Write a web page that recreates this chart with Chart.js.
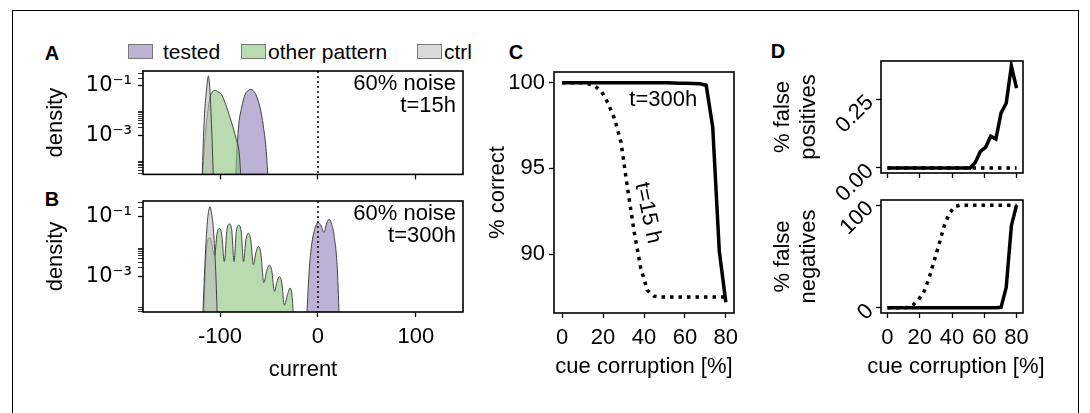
<!DOCTYPE html>
<html lang="en">
<head>
<meta charset="UTF-8" />
<title>Cue corruption - current densities</title>
<script src="https://cdn.jsdelivr.net/npm/chart.js"></script>
<style>
  body { margin: 0; background: #fff; font-family: 'Liberation Sans', Arial, sans-serif; }
  #wrap { position: relative; width: 1090px; height: 413px; overflow: hidden; }
  #frame { position: absolute; left: 12px; top: 10px; width: 1067px; height: 430px; border: 1px solid #000; box-sizing: border-box; }
  canvas { position: absolute; }
  .lbl { position: absolute; font-weight: bold; font-size: 20px; transform: translate(-50%, -50%); }
  .patch { position: absolute; top: 44px; width: 25px; height: 15px; border: 1px solid #777; box-sizing: border-box; }
  .leg { position: absolute; top: 40px; font-size: 21px; line-height: 24px; }
</style>
</head>
<body>
<div id="wrap">
  <div id="frame"></div>
  <div class="lbl" style="left:52px;top:53px">A</div>
  <div class="lbl" style="left:52px;top:199px">B</div>
  <div class="lbl" style="left:516px;top:52px">C</div>
  <div class="lbl" style="left:778px;top:51px">D</div>

  <div class="patch" style="left:128px;background:#bcb2d5"></div>
  <div class="leg" style="left:163px">tested</div>
  <div class="patch" style="left:241px;background:#b8dbb0"></div>
  <div class="leg" style="left:268px">other pattern</div>
  <div class="patch" style="left:417px;background:#dadada"></div>
  <div class="leg" style="left:444px">ctrl</div>

  <canvas id="chartA"></canvas>
  <canvas id="chartB"></canvas>
  <canvas id="chartC"></canvas>
  <canvas id="chartD1"></canvas>
  <canvas id="chartD2"></canvas>
</div>

<script>
  // ---- A: current densities at t=15h ----
  const aCtrlX = [-118.5, -116.3, -114.3, -112.9, -111.9, -110.9, -110.2, -108.5, -106.6];
  const aCtrlY = [1e-5, 3.2e-3, 0.043, 0.14, 0.25, 0.14, 0.056, 1.8e-3, 1e-5];
  const aOtherX = [-118.5, -115.3, -111.9, -109.5, -107, -105.1, -102, -98.3, -93.2, -88.1, -83.7, -80.3, -78.3];
  const aOtherY = [1e-5, 7.9e-4, 0.0135, 0.043, 0.060, 0.065, 0.056, 0.043, 0.0135, 3.2e-3, 7.6e-4, 1.8e-4, 1e-5];
  const aTestedX = [-84.5, -81.3, -77.9, -74.5, -71.5, -68.7, -66, -63.3, -59.2, -55.8, -53.1, -50.5];
  const aTestedY = [1e-5, 1.8e-3, 0.0135, 0.043, 0.063, 0.071, 0.063, 0.043, 0.0135, 2.4e-3, 3.2e-4, 1e-5];

  // ---- B: current densities at t=300h ----
  const bCtrlX = [-118, -115.3, -112.9, -111.5, -110.2, -108.8, -106.8, -104.1, -102.5];
  const bCtrlY = [2e-5, 3.2e-3, 0.068, 0.16, 0.22, 0.14, 0.041, 8.9e-4, 2e-5];
  const bOtherX = [-117, -114, -110.2, -105.5, -103.2, -100.7, -98.2, -95.6, -93, -90.5, -88, -85.7,
    -83.4, -80.9, -78.4, -76, -73.6, -71.1, -68.6, -66, -63.4, -60.9, -58.4, -55.3,
    -52.2, -49.7, -47.2, -44.4, -42, -39.5, -37, -34.3, -31.1, -28.6, -26.3, -24.5];
  const bOtherY = [2e-5, 7.9e-3, 0.020, 5.0e-3, 0.025, 0.041, 0.025, 3.2e-3, 0.035, 0.058, 0.035, 3.2e-3,
    0.032, 0.052, 0.032, 3.2e-3, 0.017, 0.028, 0.017, 2.5e-3, 6.3e-3, 0.010, 6.3e-3, 6.3e-4,
    1.6e-3, 2.4e-3, 1.6e-3, 3.2e-4, 6.3e-4, 1.0e-3, 6.3e-4, 1.1e-4, 2.5e-4, 4.1e-4, 2.0e-4, 2e-5];
  const bTestedX = [-12, -9, -6.5, -3.1, 0.3, 3.2, 6.1, 9, 11.6, 14, 16.3, 19.7, 22];
  const bTestedY = [2e-5, 1.6e-3, 0.0115, 0.041, 0.065, 0.050, 0.030, 0.063, 0.083, 0.056, 0.025, 1.9e-3, 2e-5];

  // ---- C / D: against cue corruption ----
  const cueX = [0, 3.2, 6.4, 9.6, 12.8, 16, 19.2, 22.4, 25.6, 28.8, 32, 35.2, 38.4, 41.6, 44.8, 48,
    51.2, 54.4, 57.6, 60.8, 64, 67.2, 70.4, 73.6, 76.8, 80];
  const correct300 = [100, 100, 100, 100, 100, 100, 100, 100, 100, 100, 100, 100, 100, 100, 100, 100,
    99.99, 99.98, 99.97, 99.96, 99.95, 99.93, 99.85, 97.4, 90.2, 87.2];
  const correct15 = [100, 100, 100, 100, 99.93, 99.8, 99.5, 98.8, 97.9, 96.5, 93.8, 91.3, 89.2, 87.9, 87.55, 87.5,
    87.5, 87.5, 87.5, 87.5, 87.5, 87.5, 87.5, 87.5, 87.5, 87.5];
  const falsePos300 = [0, 0, 0, 0, 0, 0, 0, 0, 0, 0, 0, 0, 0, 0, 0, 0, 0,
    0.02, 0.06, 0.075, 0.115, 0.105, 0.2, 0.235, 0.37, 0.29];
  const falsePos15 = [0, 0, 0, 0, 0, 0, 0, 0, 0, 0, 0, 0, 0, 0, 0, 0, 0, 0, 0, 0, 0, 0, 0, 0, 0, 0];
  const falseNeg300 = [0, 0, 0, 0, 0, 0, 0, 0, 0, 0, 0, 0, 0, 0, 0, 0, 0, 0, 0, 0, 0, 0,
    0.5, 20, 80, 100];
  const falseNeg15 = [0, 0, 0, 0, 0.5, 3, 8, 15, 28, 45, 62, 80, 92, 98.5, 100, 100,
    100, 100, 100, 100, 100, 100, 100, 100, 100, 100];

  const currentTicks = [-100, 0, 100];
  const cueTicks = [0, 20, 40, 60, 80];
  const correctTicks = [90, 95, 100];
  const fpTicks = [0, 0.25];
  const fnTicks = [0, 100];
  const logDecades = [1e-5, 1e-3, 1e-1];

  const FONT = "'Liberation Sans', Arial, sans-serif";
  Chart.defaults.font.family = FONT;
  Chart.defaults.font.size = 22;
  Chart.defaults.color = '#000';

  const pts = (xs, ys) => xs.map((x, i) => ({ x, y: ys[i] }));

  // canvas placed so the plot area lands on a fixed box
  function place(id, b) {
    const c = document.getElementById(id);
    c.width = b.yW + b.w + b.padR;
    c.height = b.padT + b.h + b.xH;
    c.style.left = (b.left - b.yW) + 'px';
    c.style.top = (b.top - b.padT) + 'px';
    return c;
  }

  const decor = {
    id: 'decor',
    afterDatasetsDraw(chart, args, o) {
      const { ctx, chartArea: a, scales } = chart;
      ctx.save();
      if (o.vline !== undefined && o.vline !== null) {
        const x = scales.x.getPixelForValue(o.vline);
        ctx.setLineDash([2, 3]);
        ctx.lineWidth = 1.5;
        ctx.strokeStyle = '#000';
        ctx.beginPath(); ctx.moveTo(x, a.top); ctx.lineTo(x, a.bottom); ctx.stroke();
        ctx.setLineDash([]);
      }
      ctx.lineWidth = 1.6;
      ctx.strokeStyle = '#000';
      ctx.strokeRect(a.left, a.top, a.right - a.left, a.bottom - a.top);
      ctx.fillStyle = '#000';
      ctx.font = '22px ' + FONT;
      ctx.textBaseline = 'middle';
      (o.corner || []).forEach((t, i) => {
        ctx.textAlign = 'right';
        ctx.fillText(t, a.right - 7, a.top + 13 + 22 * i);
      });
      (o.notes || []).forEach(n => {
        ctx.save();
        ctx.translate(scales.x.getPixelForValue(n.x), scales.y.getPixelForValue(n.y));
        ctx.rotate((n.rot || 0) * Math.PI / 180);
        ctx.textAlign = 'center';
        ctx.fillText(n.text, 0, 0);
        ctx.restore();
      });
      // axis title wider than a narrow plot
      if (o.xTitle) {
        ctx.textAlign = 'center';
        ctx.fillText(o.xTitle, (a.left + a.right) / 2 + 4, a.bottom + o.xTitleDy);
      }
      ctx.restore();
    }
  };

  function xAxis(min, max, ticks, h, labels, title, tpad) {
    return {
      type: 'linear', min, max, position: 'bottom',
      afterBuildTicks: s => { s.ticks = ticks.map(v => ({ value: v })); },
      afterFit: s => { s.height = h; },
      grid: { drawOnChartArea: false, tickLength: 5, tickWidth: 1.3, tickColor: '#000' },
      border: { display: false },
      ticks: { display: labels, padding: 6.5, maxRotation: 0, autoSkip: false },
      title: title ? { display: true, text: title, padding: { top: 0, bottom: tpad } } : { display: false }
    };
  }

  function yLinear(min, max, ticks, w, title, tpad, fmt, rot) {
    return {
      type: 'linear', min, max,
      afterBuildTicks: s => { s.ticks = ticks.map(v => ({ value: v })); },
      afterFit: s => { s.width = w; },
      grid: { drawOnChartArea: false, tickLength: 5, tickWidth: 1.3, tickColor: '#000' },
      border: { display: false },
      ticks: { padding: rot ? 6 : 4, autoSkip: false, minRotation: rot || 0, maxRotation: rot || 0, callback: fmt },
      title: { display: true, text: title, padding: { top: tpad, bottom: 0 } }
    };
  }

  function yLog(min, max) {
    return {
      type: 'logarithmic', min, max,
      afterBuildTicks: s => {
        const t = [];
        logDecades.forEach(m => {
          for (let k = 1; k <= 9; k++) {
            const v = m * k;
            if (v >= min && v <= max) t.push({ value: v, major: k === 1 });
          }
        });
        s.ticks = t;
      },
      afterFit: s => { s.width = 123; },
      grid: {
        drawOnChartArea: false, tickLength: 5, tickColor: '#000',
        tickWidth: c => (c.tick && c.tick.major ? 1.3 : 0.8)
      },
      border: { display: false },
      ticks: {
        autoSkip: false, padding: 6,
        font: { family: "'DejaVu Sans'", size: 21 },
        callback: v => (v === 0.1 ? '10⁻¹' : v === 0.001 ? '10⁻³' : '')
      },
      title: { display: true, text: 'density', padding: { top: 22.8, bottom: 0 } }
    };
  }

  const PURPLE = 'rgba(143,127,185,0.6)';
  const GREEN = 'rgba(138,195,123,0.6)';
  const GREY = 'rgba(188,188,188,0.6)';

  function densitySets(ctrlX, ctrlY, otherX, otherY, testedX, testedY) {
    const base = { fill: 'start', pointRadius: 0, borderWidth: 0.9, borderColor: '#333', cubicInterpolationMode: 'monotone' };
    return [
      Object.assign({ label: 'ctrl', data: pts(ctrlX, ctrlY), backgroundColor: GREY, order: 1 }, base),
      Object.assign({ label: 'other pattern', data: pts(otherX, otherY), backgroundColor: GREEN, order: 2 }, base),
      Object.assign({ label: 'tested', data: pts(testedX, testedY), backgroundColor: PURPLE, order: 3 }, base)
    ];
  }

  function common(padT, padR) {
    return {
      responsive: false, animation: false,
      layout: { padding: { top: padT, right: padR, left: 0, bottom: 0 } },
      plugins: { legend: { display: false }, tooltip: { enabled: false } }
    };
  }

  // ---- panel A ----
  const boxA = { left: 143, top: 71, w: 320, h: 112, yW: 123, xH: 10, padT: 20, padR: 30 };
  new Chart(place('chartA', boxA), {
    type: 'line',
    data: { datasets: densitySets(aCtrlX, aCtrlY, aOtherX, aOtherY, aTestedX, aTestedY) },
    options: Object.assign(common(boxA.padT, boxA.padR), {
      scales: { x: xAxis(-178.6, 148, currentTicks, boxA.xH, false), y: yLog(2.7e-5, 0.39) },
      plugins: { legend: { display: false }, tooltip: { enabled: false },
        decor: { vline: 0, corner: ['60% noise', 't=15h'] } }
    }),
    plugins: [decor]
  });

  // ---- panel B ----
  const boxB = { left: 143, top: 201, w: 320, h: 111, yW: 123, xH: 73, padT: 20, padR: 30 };
  new Chart(place('chartB', boxB), {
    type: 'line',
    data: { datasets: densitySets(bCtrlX, bCtrlY, bOtherX, bOtherY, bTestedX, bTestedY) },
    options: Object.assign(common(boxB.padT, boxB.padR), {
      scales: { x: xAxis(-178.6, 148, currentTicks, boxB.xH, true, 'current', 1.8), y: yLog(6.5e-5, 0.34) },
      plugins: { legend: { display: false }, tooltip: { enabled: false },
        decor: { vline: 0, corner: ['60% noise', 't=300h'] } }
    }),
    plugins: [decor]
  });

  const solid = { borderColor: '#000', borderWidth: 3.5, pointRadius: 0, fill: false, tension: 0, borderCapStyle: 'butt' };
  const dotted = Object.assign({}, solid, { borderDash: [3.5, 5] });

  // ---- panel C ----
  const boxC = { left: 554, top: 72, w: 180, h: 241, yW: 84, xH: 72, padT: 20, padR: 15 };
  new Chart(place('chartC', boxC), {
    type: 'line',
    data: { datasets: [
      Object.assign({ label: 't=300h', data: pts(cueX, correct300) }, solid),
      Object.assign({ label: 't=15h', data: pts(cueX, correct15) }, dotted)
    ] },
    options: Object.assign(common(boxC.padT, boxC.padR), {
      scales: {
        x: xAxis(-4, 84, cueTicks, boxC.xH, true, 'cue corruption [%]', 4.8),
        y: yLinear(86.57, 100.62, correctTicks, boxC.yW, '% correct', 14.8, v => String(v))
      },
      plugins: { legend: { display: false }, tooltip: { enabled: false },
        decor: { notes: [{ text: 't=300h', x: 49.4, y: 98.97 }, { text: 't=15 h', x: 41.8, y: 92.4, rot: 78 }] } }
    }),
    plugins: [decor]
  });

  // ---- panel D (top: false positives) ----
  const boxD1 = { left: 881, top: 61, w: 142, h: 112, yW: 121, xH: 40, padT: 20, padR: 20 };
  new Chart(place('chartD1', boxD1), {
    type: 'line',
    data: { datasets: [
      Object.assign({ label: 't=300h', data: pts(cueX, falsePos300) }, solid),
      Object.assign({ label: 't=15h', data: pts(cueX, falsePos15) }, dotted)
    ] },
    options: Object.assign(common(boxD1.padT, boxD1.padR), {
      scales: {
        x: xAxis(-4, 84, cueTicks, boxD1.xH, false),
        y: yLinear(-0.0185, 0.3885, fpTicks, boxD1.yW, ['% false', 'positives'], 9.8, v => v.toFixed(2), 45)
      },
      plugins: { legend: { display: false }, tooltip: { enabled: false }, decor: {} }
    }),
    plugins: [decor]
  });

  // ---- panel D (bottom: false negatives) ----
  const boxD2 = { left: 881, top: 200, w: 142, h: 113, yW: 121, xH: 72, padT: 20, padR: 45 };
  new Chart(place('chartD2', boxD2), {
    type: 'line',
    data: { datasets: [
      Object.assign({ label: 't=300h', data: pts(cueX, falseNeg300) }, solid),
      Object.assign({ label: 't=15h', data: pts(cueX, falseNeg15) }, dotted)
    ] },
    options: Object.assign(common(boxD2.padT, boxD2.padR), {
      scales: {
        x: xAxis(-4, 84, cueTicks, boxD2.xH, true),
        y: yLinear(-5, 105, fnTicks, boxD2.yW, ['% false', 'negatives'], 9.8, v => String(v), 45)
      },
      plugins: { legend: { display: false }, tooltip: { enabled: false },
        decor: { xTitle: 'cue corruption [%]', xTitleDy: 54 } }
    }),
    plugins: [decor]
  });
</script>
</body>
</html>
